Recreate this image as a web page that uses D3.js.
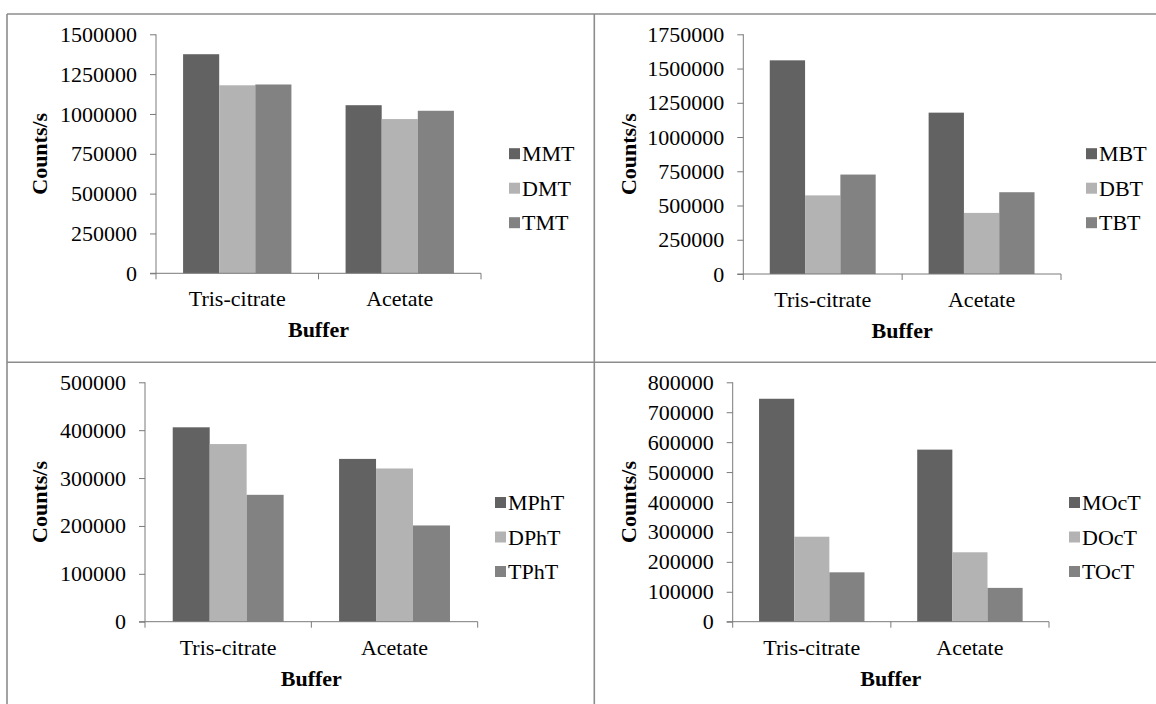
<!DOCTYPE html>
<html>
<head>
<meta charset="utf-8">
<script src="https://cdn.jsdelivr.net/npm/d3@7"></script>
<style>
  html, body { margin: 0; padding: 0; background: #ffffff; }
  svg { display: block; }
  svg text { font-family: "Liberation Serif", "Times New Roman", serif; }
</style>
</head>
<body>
<svg id="chart" width="1156" height="704"></svg>
<script>
// Buffer categories shared by all four organotin panels
const categories = ["Tris-citrate", "Acetate"];

// Methyltin species (counts/s), one row per buffer
const methylSeries = ["MMT", "DMT", "TMT"];
const methylValues = [
  [1375000, 1180000, 1185000],
  [1055000, 968000, 1020000]
];
const methylTicks = [0, 250000, 500000, 750000, 1000000, 1250000, 1500000];

// Butyltin species
const butylSeries = ["MBT", "DBT", "TBT"];
const butylValues = [
  [1560000, 574000, 726000],
  [1178000, 446000, 597000]
];
const butylTicks = [0, 250000, 500000, 750000, 1000000, 1250000, 1500000, 1750000];

// Phenyltin species
const phenylSeries = ["MPhT", "DPhT", "TPhT"];
const phenylValues = [
  [406000, 371000, 265000],
  [340000, 320000, 201000]
];
const phenylTicks = [0, 100000, 200000, 300000, 400000, 500000];

// Octyltin species
const octylSeries = ["MOcT", "DOcT", "TOcT"];
const octylValues = [
  [745000, 284000, 165000],
  [575000, 232000, 113000]
];
const octylTicks = [0, 100000, 200000, 300000, 400000, 500000, 600000, 700000, 800000];

const yTitle = "Counts/s";
const xTitle = "Buffer";

// Fill shades for the first, second and third species of each panel
const shades = ["#626262", "#b3b3b3", "#828282"];

// Panel layout: plot box, legend anchor, title offset
const panels = [
  { series: methylSeries, values: methylValues, ticks: methylTicks,
    x0: 156, x1: 481, yTop: 34.3, yBase: 273.3, legX: 509, legY: 153.7, titleX: 47 },
  { series: butylSeries, values: butylValues, ticks: butylTicks,
    x0: 743.3, x1: 1061, yTop: 34.3, yBase: 274, legX: 1086, legY: 153.7, titleX: 636 },
  { series: phenylSeries, values: phenylValues, ticks: phenylTicks,
    x0: 145, x1: 477.7, yTop: 382.3, yBase: 621.7, legX: 495, legY: 502.5, titleX: 47 },
  { series: octylSeries, values: octylValues, ticks: octylTicks,
    x0: 732.7, x1: 1049, yTop: 382.3, yBase: 621.7, legX: 1069, legY: 502.5, titleX: 636 }
];

const FONT = "'Liberation Serif', 'Times New Roman', serif";
const fontSize = 22;
const axisColor = "#7a7a7a";

const svg = d3.select("#chart");

// Frame lines separating the four panels
const frame = svg.append("g")
  .attr("stroke", "#8c8c8c")
  .attr("stroke-width", 1.6)
  .attr("fill", "none");
frame.append("line").attr("x1", 7).attr("x2", 1156).attr("y1", 14).attr("y2", 14);
frame.append("line").attr("x1", 7).attr("x2", 7).attr("y1", 14).attr("y2", 704);
frame.append("line").attr("x1", 594.3).attr("x2", 594.3).attr("y1", 14).attr("y2", 704);
frame.append("line").attr("x1", 7).attr("x2", 1156).attr("y1", 362.3).attr("y2", 362.3);

panels.forEach(p => {
  const g = svg.append("g").attr("font-family", FONT);

  const yMax = p.ticks[p.ticks.length - 1];
  const y = d3.scaleLinear().domain([0, yMax]).range([p.yBase, p.yTop]);

  const x = d3.scaleBand().domain(categories).range([p.x0, p.x1]).paddingInner(0).paddingOuter(0);
  const xs = d3.scaleBand().domain(p.series).range([0, x.bandwidth()])
    .paddingInner(0).paddingOuter(0.75);

  const color = d3.scaleOrdinal().domain(p.series).range(shades);

  // Bars
  const groups = g.selectAll("g.cat")
    .data(categories.map((c, i) => ({ cat: c, vals: p.values[i] })))
    .join("g")
    .attr("class", "cat")
    .attr("transform", d => `translate(${x(d.cat)},0)`);

  groups.selectAll("rect")
    .data(d => p.series.map((s, j) => ({ s, v: d.vals[j] })))
    .join("rect")
    .attr("x", d => xs(d.s))
    .attr("width", xs.bandwidth())
    .attr("y", d => y(d.v))
    .attr("height", d => y(0) - y(d.v))
    .attr("fill", d => color(d.s));

  // Y axis
  const yAxis = g.append("g")
    .attr("transform", `translate(${p.x0},0)`)
    .call(d3.axisLeft(y).tickValues(p.ticks).tickFormat(d3.format("d")).tickSize(6).tickPadding(13));
  yAxis.attr("font-family", FONT).attr("font-size", fontSize);
  yAxis.select(".domain").attr("stroke", axisColor).attr("d", `M0,${p.yTop}V${p.yBase}`);
  yAxis.selectAll(".tick line").attr("stroke", axisColor);
  yAxis.selectAll(".tick text")
    .attr("fill", "#000")
    .attr("font-size", fontSize)
    .attr("font-family", FONT);

  // X axis: baseline with tick marks at band boundaries
  const xAxis = g.append("g");
  xAxis.append("line")
    .attr("x1", p.x0 - 6).attr("x2", p.x1)
    .attr("y1", p.yBase).attr("y2", p.yBase)
    .attr("stroke", axisColor);
  const bounds = categories.map(c => x(c)).concat([x(categories[categories.length - 1]) + x.bandwidth()]);
  xAxis.selectAll("line.tk")
    .data(bounds)
    .join("line")
    .attr("class", "tk")
    .attr("x1", d => d).attr("x2", d => d)
    .attr("y1", p.yBase).attr("y2", p.yBase + 6)
    .attr("stroke", axisColor);
  xAxis.selectAll("text.cat")
    .data(categories)
    .join("text")
    .attr("class", "cat")
    .attr("x", d => x(d) + x.bandwidth() / 2)
    .attr("y", p.yBase + 33)
    .attr("text-anchor", "middle")
    .attr("font-size", fontSize)
    .text(d => d);

  // Axis titles
  g.append("text")
    .attr("x", (p.x0 + p.x1) / 2)
    .attr("y", p.yBase + 64)
    .attr("text-anchor", "middle")
    .attr("font-size", fontSize)
    .attr("font-weight", "bold")
    .text(xTitle);

  g.append("text")
    .attr("transform", `translate(${p.titleX},${(p.yTop + p.yBase) / 2}) rotate(-90)`)
    .attr("text-anchor", "middle")
    .attr("font-size", fontSize)
    .attr("font-weight", "bold")
    .text(yTitle);

  // Legend
  const leg = g.append("g");
  const rows = leg.selectAll("g")
    .data(p.series)
    .join("g")
    .attr("transform", (d, i) => `translate(${p.legX},${p.legY + i * 34.5})`);
  rows.append("rect")
    .attr("x", 0).attr("y", -5.5)
    .attr("width", 11).attr("height", 11)
    .attr("fill", d => color(d));
  rows.append("text")
    .attr("x", 13)
    .attr("y", 0)
    .attr("dy", "0.35em")
    .attr("font-size", fontSize)
    .text(d => d);
});
</script>
</body>
</html>
